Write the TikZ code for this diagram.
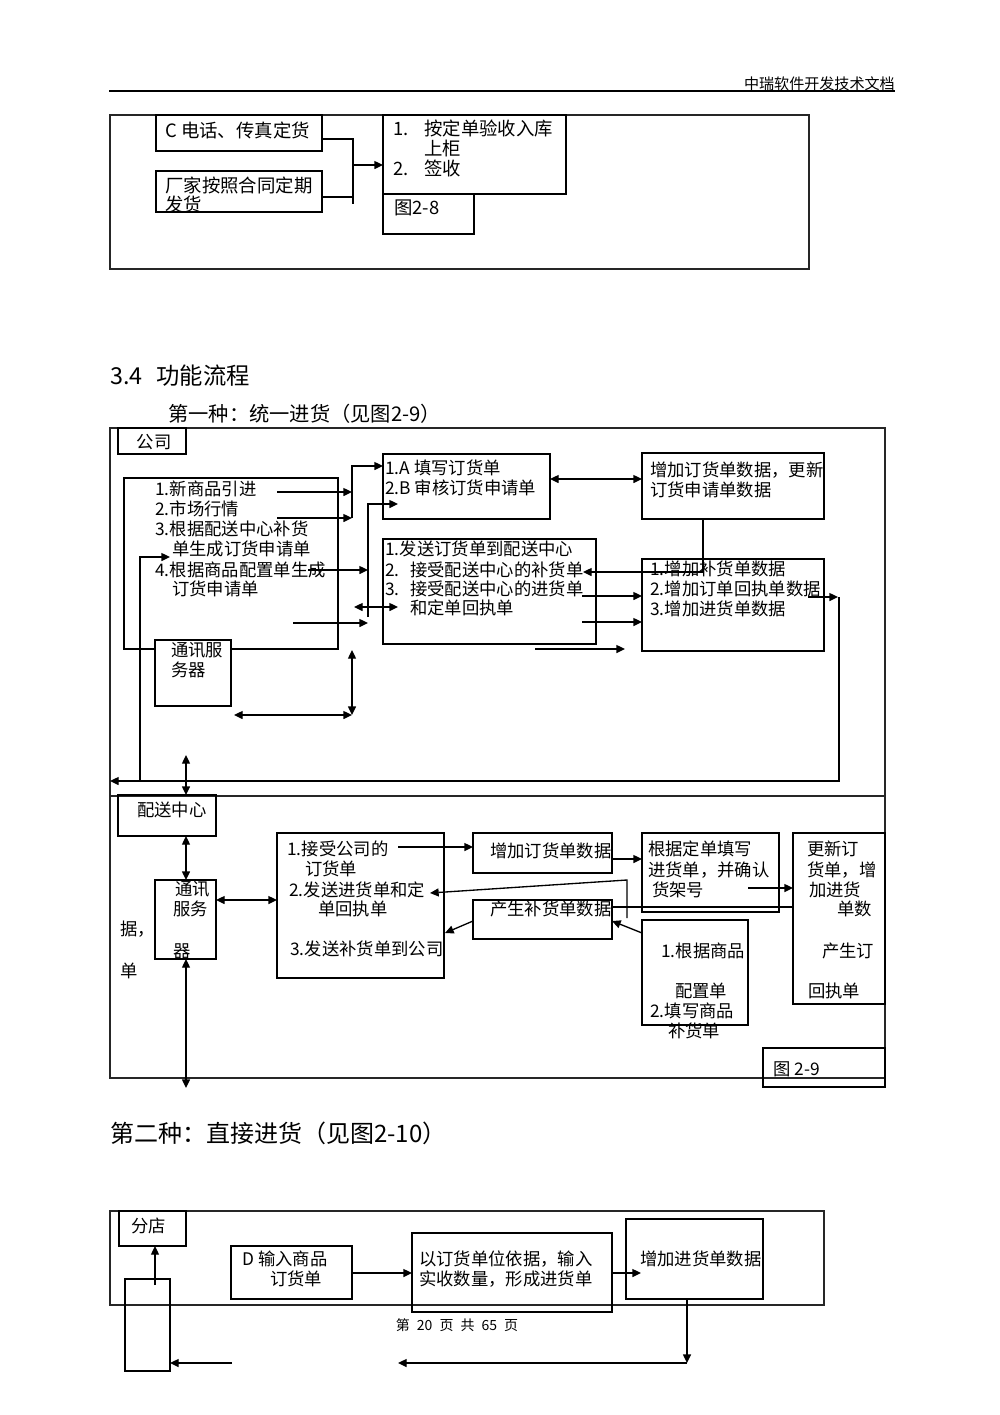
\documentclass[tikz,border=0pt]{standalone}
\usepackage{fontspec}
\setmainfont{Noto Sans CJK SC}
\usetikzlibrary{arrows.meta,fit}
\newcommand{\myfs}[1]{\fontsize{#1}{#1}\selectfont}
\begin{document}
\begin{tikzpicture}[x=0.75pt,y=-0.75pt,
  box/.style={draw, line width=0.9pt, inner sep=0pt},
  myframe/.style={draw=black!85, line width=0.8pt, inner sep=0pt},
  txt/.style={inner sep=0pt, text height=0.88em, text depth=0.12em, anchor=west, yshift=-1.5pt, font=\myfs{13}},
  ln/.style={line width=1pt},
  ar/.style={line width=1pt, -{Triangle[length=6.5pt,width=6pt]}},
  dar/.style={line width=1pt, {Triangle[length=6.5pt,width=6pt]}-{Triangle[length=6.5pt,width=6pt]}}]
\useasboundingbox (0,0) rectangle (1000,1415);
\fill[white] (0,0) rectangle (1000,1415);

% ---------- header ----------
\node[txt, anchor=east, font=\myfs{11.3}] (hdr) at (895,82) {中瑞软件开发技术文档};
\coordinate (hl) at (109,91); \coordinate (hr) at (895,91);
\draw[line width=1.5pt] (hl) -- (hr);

% ---------- figure 2-8 ----------
\node[myframe, fit={(110,115) (809,269)}] (f8) {};
\node[box, fit={(156,115) (322,151)}] (c8) {};
\node[txt, font=\myfs{13.8}] (c8t) at (165,130) {C 电话、传真定货};
\node[box, fit={(156,171) (322,212)}] (m8) {};
\node[txt, font=\myfs{13.8}] (m8t1) at (165,185) {厂家按照合同定期};
\node[txt, font=\myfs{13.8}] (m8t2) at (165,204) {发货};
\node[box, fit={(383,115) (566,194)}] (r8) {};
\node[txt, font=\myfs{13.8}] (r8a) at (393,128) {1.};
\node[txt, font=\myfs{13.8}] (r8b) at (424,128) {按定单验收入库};
\node[txt, font=\myfs{13.8}] (r8c) at (424,148) {上柜};
\node[txt, font=\myfs{13.8}] (r8d) at (393,168) {2.};
\node[txt, font=\myfs{13.8}] (r8e) at (424,168) {签收};
\node[box, fit={(383,194) (474,234)}] (g8) {};
\node[txt, font=\myfs{13.8}] (g8t) at (394,207) {图2-8};
\coordinate (p1) at (322,139); \coordinate (p2) at (353,139); \coordinate (p3) at (353,204);
\coordinate (p4) at (322,197); \coordinate (p5) at (353,197);
\coordinate (p6) at (353,165); \coordinate (p7) at (383,165);
\draw[ln] (p1) -- (p2) -- (p3);
\draw[ln] (p4) -- (p5);
\draw[ar] (p6) -- (p7);

% ---------- section heading ----------
\node[txt, font=\myfs{17.5}] (sec) at (110,377) {3.4\hspace{0.6em}功能流程};
\node[txt, font=\myfs{15.2}] (sub1) at (168,414) {第一种：统一进货（见图2-9）};

% ---------- figure 2-9 (company) ----------
\node[myframe, fit={(110,428) (885,796)}] (f9a) {};
\node[myframe, fit={(110,796) (885,1078)}] (f9b) {};
\node[box, fit={(118,428) (186,454)}] (gs) {};
\node[txt, anchor=center] (gst) at (154,441) {公司};

\node[box, fit={(124,478) (338,649)}] (lb) {};
\node[txt] (lb1) at (155,488) {1.新商品引进};
\node[txt] (lb2) at (155,508) {2.市场行情};
\node[txt] (lb3) at (155,528) {3.根据配送中心补货};
\node[txt] (lb4) at (172,548) {单生成订货申请单};
\node[txt] (lb5) at (155,569) {4.根据商品配置单生成};
\node[txt] (lb6) at (172,588) {订货申请单};

\node[box, fill=white, fit={(155,640) (231,706)}] (s1) {};
\node[txt] (s1a) at (171,649) {通讯服};
\node[txt] (s1b) at (171,669) {务器};

\node[box, fit={(383,454) (550,519)}] (ba) {};
\node[txt] (ba1) at (385,467) {1.A 填写订货单};
\node[txt] (ba2) at (385,487) {2.B 审核订货申请单};

\node[box, fit={(642,453) (824,519)}] (bb) {};
\node[txt] (bb1) at (650,469) {增加订货单数据，更新};
\node[txt] (bb2) at (650,489) {订货申请单数据};

\node[box, fit={(383,539) (596,644)}] (bc) {};
\node[txt] (bc1) at (385,548) {1.发送订货单到配送中心};
\node[txt] (bc2) at (385,569) {2.};
\node[txt] (bc3) at (410,569) {接受配送中心的补货单};
\node[txt] (bc4) at (385,588) {3.};
\node[txt] (bc5) at (410,588) {接受配送中心的进货单};
\node[txt] (bc6) at (410,607) {和定单回执单};

\node[box, fit={(642,559) (824,651)}] (bd) {};
\node[txt] (bd1) at (650,568) {1.增加补货单数据};
\node[txt] (bd2) at (650,588) {2.增加订单回执单数据};
\node[txt] (bd3) at (650,608) {3.增加进货单数据};

% connectors (company)
\coordinate (a1s) at (277,492); \coordinate (a1e) at (352,492);
\coordinate (a2s) at (277,518); \coordinate (a2e) at (352,518);
\coordinate (a3t) at (352,466); \coordinate (a3e) at (383,466);
\draw[ar] (a1s) -- (a1e);
\draw[ar] (a2s) -- (a2e);
\draw[ar] (a2e) -- (a3t) -- (a3e);
\coordinate (v1b) at (368,617); \coordinate (v1t) at (368,504); \coordinate (v1e) at (398,504);
\draw[ar] (v1b) -- (v1t) -- (v1e);
\coordinate (a4s) at (308,570); \coordinate (a4e) at (368,570);
\draw[ar] (a4s) -- (a4e);
\coordinate (d1s) at (354,607); \coordinate (d1e) at (398,607);
\draw[dar] (d1s) -- (d1e);
\coordinate (a5s) at (293,623); \coordinate (a5e) at (368,623);
\draw[ar] (a5s) -- (a5e);
\coordinate (d2s) at (550,479); \coordinate (d2e) at (642,479);
\draw[dar] (d2s) -- (d2e);
\coordinate (q1) at (703,519); \coordinate (q2) at (703,572); \coordinate (q3) at (583,572);
\draw[ar] (q1) -- (q2) -- (q3);
\coordinate (a6s) at (582,596); \coordinate (a6e) at (642,596);
\draw[ar] (a6s) -- (a6e);
\coordinate (a7s) at (582,622); \coordinate (a7e) at (642,622);
\draw[ar] (a7s) -- (a7e);
\coordinate (a8s) at (535,649); \coordinate (a8e) at (625,649);
\draw[ar] (a8s) -- (a8e);
\coordinate (a9s) at (808,597); \coordinate (a9e) at (838,597);
\draw[ar] (a9s) -- (a9e);
\coordinate (r1) at (839,597); \coordinate (r2) at (839,781); \coordinate (r3) at (110,781);
\draw[ar] (r1) -- (r2) -- (r3);
\coordinate (l1) at (140,781); \coordinate (l2) at (140,557); \coordinate (l3) at (170,557);
\draw[ar] (l1) -- (l2) -- (l3);
\coordinate (d3t) at (352,650); \coordinate (d3b) at (352,715); \coordinate (d4l) at (234,715);
\draw[dar] (d3t) -- (d3b);
\draw[dar] (d4l) -- (d3b);
\coordinate (d5t) at (186,755); \coordinate (d5b) at (186,795);
\draw[dar] (d5t) -- (d5b);

% ---------- figure 2-9 (distribution centre) ----------
\node[box, fit={(118,795) (216,836)}] (ps) {};
\node[txt] (pst) at (137,809) {配送中心};
\node[box, fit={(155,880) (216,959)}] (s2) {};
\node[txt] (s2a) at (175,888) {通讯};
\node[txt] (s2b) at (173,908) {服务};
\node[txt] (s2c) at (173,950) {器};
\node[txt] (ju) at (120,928) {据，};
\node[txt] (dan) at (120,970) {单};

\node[box, fit={(277,833) (444,978)}] (be) {};
\node[txt] (be1) at (287,848) {1.接受公司的};
\node[txt] (be2) at (305,868) {订货单};
\node[txt] (be3) at (289,889) {2.发送进货单和定};
\node[txt] (be4) at (318,908) {单回执单};
\node[txt] (be5) at (290,948) {3.发送补货单到公司};

\node[box, fit={(473,833) (612,873)}] (bf) {};
\node[txt] (bft) at (490,850) {增加订货单数据};
\node[box, fit={(473,900) (612,939)}] (bg) {};
\node[txt] (bgt) at (490,908) {产生补货单数据};

\node[box, fit={(642,833) (779,912)}] (bh) {};
\node[txt] (bh1) at (648,848) {根据定单填写};
\node[txt] (bh2) at (648,869) {进货单，并确认};
\node[txt] (bh3) at (652,889) {货架号};

\node[box, fit={(793,833) (885,1004)}] (bi) {};
\node[txt] (bi1) at (807,848) {更新订};
\node[txt] (bi2) at (807,869) {货单，增};
\node[txt] (bi3) at (809,889) {加进货};
\node[txt] (bi4) at (837,908) {单数};
\node[txt] (bi5) at (822,950) {产生订};
\node[txt] (bi6) at (808,990) {回执单};

\node[box, fit={(642,920) (748,1025)}] (bj) {};
\node[txt] (bj1) at (661,950) {1.根据商品};
\node[txt] (bj2) at (675,990) {配置单};
\node[txt] (bj3) at (650,1010) {2.填写商品};
\node[txt] (bj4) at (668,1030) {补货单};

\node[box, fit={(763,1048) (885,1087)}] (bk) {};
\node[txt] (bkt) at (773,1068) {图 2-9};

% connectors (distribution centre)
\coordinate (e1t) at (186,836); \coordinate (e1b) at (186,880);
\draw[dar] (e1t) -- (e1b);
\coordinate (e2l) at (216,900); \coordinate (e2r) at (277,900);
\draw[dar] (e2l) -- (e2r);
\coordinate (e3s) at (398,847); \coordinate (e3e) at (473,847);
\draw[ar] (e3s) -- (e3e);
\coordinate (e4s) at (612,859); \coordinate (e4e) at (642,859);
\draw[ar] (e4s) -- (e4e);
\coordinate (e5s) at (748,888); \coordinate (e5e) at (793,888);
\draw[ar] (e5s) -- (e5e);
\coordinate (e6s) at (612,907); \coordinate (e6e) at (793,907);
\draw[ln] (e6s) -- (e6e);
\coordinate (e7a) at (627,918); \coordinate (e7b) at (627,880); \coordinate (e7c) at (430,893);
\draw[ar] (e7a) -- (e7b) -- (e7c);
\coordinate (e8s) at (642,933); \coordinate (e8e) at (612,921);
\draw[ar] (e8s) -- (e8e);
\coordinate (e9s) at (473,921); \coordinate (e9e) at (445,933);
\draw[ar] (e9s) -- (e9e);
\coordinate (e10t) at (186,959); \coordinate (e10b) at (186,1088);
\draw[dar] (e10t) -- (e10b);

% ---------- figure 2-10 ----------
\node[txt, font=\myfs{18}] (sub2) at (110,1135) {第二种：直接进货（见图2-10）};
\node[myframe, fit={(110,1211) (824,1305)}] (f10) {};
\node[box, fit={(119,1211) (186,1246)}] (fd) {};
\node[txt] (fdt) at (131,1225) {分店};
\node[box, fit={(125,1279) (170,1371)}] (tb) {};
\node[box, fit={(231,1246) (352,1299)}] (bdd) {};
\node[txt] (bdd1) at (242,1258) {D 输入商品};
\node[txt] (bdd2) at (270,1278) {订货单};
\node[box, fit={(412,1233) (612,1312)}] (by) {};
\node[txt] (by1) at (419,1258) {以订货单位依据，输入};
\node[txt] (by2) at (419,1278) {实收数量，形成进货单};
\node[box, fit={(626,1219) (763,1299)}] (bz) {};
\node[txt] (bzt) at (640,1258) {增加进货单数据};

\coordinate (g1s) at (155,1285); \coordinate (g1e) at (155,1246);
\draw[ar] (g1s) -- (g1e);
\coordinate (g2s) at (352,1273); \coordinate (g2e) at (412,1273);
\draw[ar] (g2s) -- (g2e);
\coordinate (g3s) at (612,1273); \coordinate (g3e) at (641,1273);
\draw[ar] (g3s) -- (g3e);
\coordinate (g4s) at (687,1299); \coordinate (g4e) at (687,1363);
\draw[ar] (g4s) -- (g4e);
\coordinate (g5e) at (398,1363);
\draw[ar] (g4e) -- (g5e);
\coordinate (g6s) at (232,1363); \coordinate (g6e) at (170,1363);
\draw[ar] (g6s) -- (g6e);

% ---------- footer ----------
\node[txt, anchor=center, font=\myfs{10.5}] (ftr) at (457,1323) {第\hspace{0.5em}20\hspace{0.5em}页\hspace{0.5em}共\hspace{0.5em}65\hspace{0.5em}页};
\end{tikzpicture}
\end{document}
